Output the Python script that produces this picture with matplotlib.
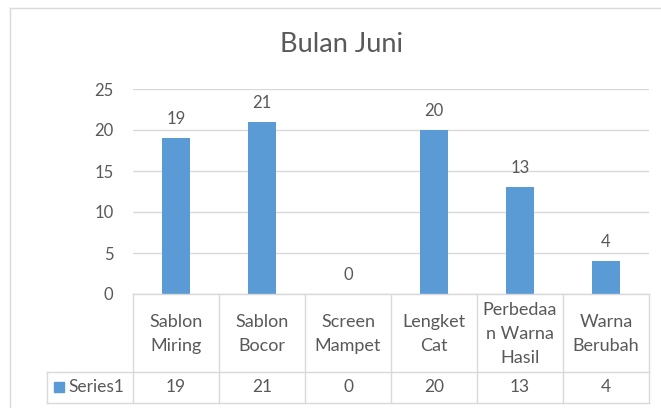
import matplotlib
matplotlib.use("Agg")
import matplotlib.pyplot as plt
from matplotlib.transforms import blended_transform_factory
from matplotlib.patches import Rectangle
from matplotlib.lines import Line2D

categories = ["Sablon\nMiring", "Sablon\nBocor", "Screen\nMampet", "Lengket\nCat",
              "Perbedaa\nn Warna\nHasil", "Warna\nBerubah"]
values = [19, 21, 0, 20, 13, 4]
series_name = "Series1"
title = "Bulan Juni"
yticks = [0, 5, 10, 15, 20, 25]

W, H = 661, 408
plt.rcParams['font.family'] = ['Lato', 'DejaVu Sans']
TXT = "#595959"
GRID = "#D9D9D9"
BAR = "#5B9BD5"

fig = plt.figure(figsize=(W / 100, H / 100), dpi=100)
fig.patch.set_facecolor("white")

def fx(px):
    return px / W

def fy(py):
    return 1 - py / H

# chart border (only left and top visible in the crop)
fig.add_artist(Line2D([fx(10), fx(10)], [fy(408), fy(8)], transform=fig.transFigure, color=GRID, lw=1))
fig.add_artist(Line2D([fx(10), fx(661)], [fy(8), fy(8)], transform=fig.transFigure, color=GRID, lw=1))

left, right, top, bottom = 133, 649, 89, 294
ax = fig.add_axes([fx(left), fy(bottom), fx(right) - fx(left), fy(top) - fy(bottom)])
n = len(categories)
x = list(range(n))
ax.bar(x, values, width=0.33, color=BAR, zorder=3)
ax.set_xlim(-0.5, n - 0.5)
ax.set_ylim(0, 25)
ax.set_yticks(yticks)
ax.set_yticklabels([str(t) for t in yticks], color=TXT, fontsize=12)
ax.tick_params(axis='y', length=0, pad=14)
ax.set_xticks([])
for s in ax.spines.values():
    s.set_visible(False)
ax.grid(axis='y', color=GRID, lw=1, zorder=0)
for xi, v in zip(x, values):
    ax.annotate(str(v), (xi, v), xytext=(0, 8), textcoords="offset points",
                ha='center', va='bottom', color=TXT, fontsize=12)

fig.text(fx(341), fy(45), title, ha='center', va='center', color=TXT, fontsize=19.5)

# data table
tr = blended_transform_factory(ax.transData, fig.transFigure)
row1_bot, row2_bot = 372, 403
tleft = 47
fig.add_artist(Line2D([fx(left), fx(right)], [fy(bottom), fy(bottom)], transform=fig.transFigure, color=GRID, lw=1))
for yy in (row1_bot, row2_bot):
    fig.add_artist(Line2D([fx(tleft), fx(right)], [fy(yy), fy(yy)], transform=fig.transFigure, color=GRID, lw=1))
for i in range(n + 1):
    fig.add_artist(Line2D([i - 0.5, i - 0.5], [fy(bottom), fy(row2_bot)], transform=tr, color=GRID, lw=1))
fig.add_artist(Line2D([fx(tleft), fx(tleft)], [fy(row1_bot), fy(row2_bot)], transform=fig.transFigure, color=GRID, lw=1))

for xi, c, v in zip(x, categories, values):
    fig.text(xi, fy((bottom + row1_bot) / 2 + 1), c, transform=tr, ha='center', va='center',
             color=TXT, fontsize=13, linespacing=1.6)
    fig.text(xi, fy((row1_bot + row2_bot) / 2), str(v), transform=tr, ha='center', va='center',
             color=TXT, fontsize=12.5)

fig.add_artist(Rectangle((fx(54), fy(392)), fx(64) - fx(54), fy(382) - fy(392),
                         transform=fig.transFigure, color=BAR))
fig.text(fx(68), fy(387.5), series_name, ha='left', va='center', color=TXT, fontsize=12.5)

fig.savefig("out.png", dpi=100)
